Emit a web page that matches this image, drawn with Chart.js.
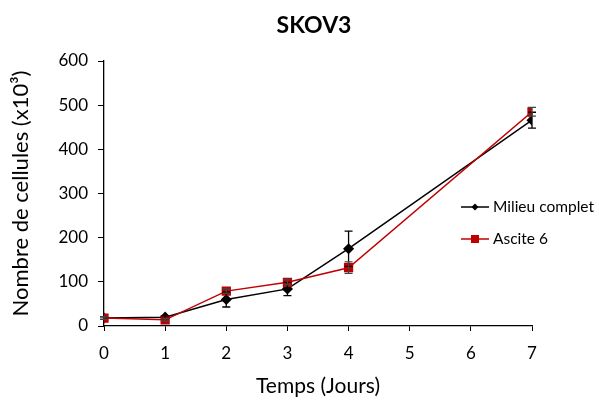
<!DOCTYPE html>
<html>
<head>
<meta charset="utf-8">
<script src="https://cdn.jsdelivr.net/npm/chart.js@4.4.0/dist/chart.umd.min.js"></script>
<style>
html,body{margin:0;padding:0;background:#fff;}
#wrap{width:599px;height:402px;position:relative;}
</style>
</head>
<body>
<div id="wrap"><canvas id="c" width="599" height="402"></canvas></div>
<script>
const chartTitle = "SKOV3";
const xTitle = "Temps (Jours)";
const yTitle = "Nombre de cellules (x10³)";
const days = [0, 1, 2, 3, 4, 7];
const seriesNames = ["Milieu complet", "Ascite 6"];
const milieu = [18, 20, 60, 84, 175, 466];
const milieuErr = [3, 3, 17, 15, 40, 18];
const ascite = [18, 14, 79, 99, 132, 485];
const asciteErr = [3, 3, 5, 6, 13, 10];
const xTicks = [0, 1, 2, 3, 4, 5, 6, 7];
const yTicks = [0, 100, 200, 300, 400, 500, 600];

const FONT = "Lato, 'Open Sans', sans-serif";

function pts(vals){ return days.map((d,i)=>({x:d, y:vals[i]})); }

const errorBars = {
  id: 'errorBars',
  afterDatasetsDraw(chart){
    const ctx = chart.ctx;
    const ys = chart.scales.y, xs = chart.scales.x;
    const errs = [milieuErr, asciteErr];
    ctx.save();
    chart.data.datasets.forEach((ds, di) => {
      const err = errs[di];
      ctx.strokeStyle = di === 0 ? '#000' : '#444';
      ctx.lineWidth = 1.3;
      ds.data.forEach((p, i) => {
        const px = xs.getPixelForValue(p.x);
        const top = ys.getPixelForValue(p.y + err[i]);
        const bot = ys.getPixelForValue(p.y - err[i]);
        ctx.beginPath();
        ctx.moveTo(px, top); ctx.lineTo(px, bot);
        ctx.moveTo(px-4, top); ctx.lineTo(px+4, top);
        ctx.moveTo(px-4, bot); ctx.lineTo(px+4, bot);
        ctx.stroke();
      });
    });
    ctx.restore();
  }
};

const customText = {
  id: 'customText',
  afterDraw(chart){
    const ctx = chart.ctx;
    ctx.save();
    ctx.fillStyle = '#000';
    ctx.font = "bold 23px " + FONT;
    ctx.textAlign = 'center';
    ctx.textBaseline = 'middle';
    ctx.fillText(chartTitle, 314, 26);
    const items = chart.data.datasets;
    const ly = [207, 239];
    items.forEach((ds, i) => {
      const y = ly[i];
      ctx.strokeStyle = ds.borderColor;
      ctx.lineWidth = 1.5;
      ctx.beginPath(); ctx.moveTo(461, y); ctx.lineTo(489, y); ctx.stroke();
      ctx.fillStyle = ds.pointBackgroundColor;
      if (ds.pointStyle === 'rectRot') {
        ctx.beginPath();
        ctx.moveTo(475, y-3.5); ctx.lineTo(478.5, y); ctx.lineTo(475, y+3.5); ctx.lineTo(471.5, y); ctx.closePath(); ctx.fill();
      } else {
        ctx.fillRect(471, y-4, 8, 8);
      }
      ctx.fillStyle = '#000';
      ctx.font = "15.5px " + FONT;
      ctx.textAlign = 'left';
      ctx.textBaseline = 'middle';
      ctx.fillText(ds.label, 493, y);
    });
    ctx.restore();
  }
};

new Chart(document.getElementById('c'), {
  type: 'line',
  data: {
    datasets: [
      { label: seriesNames[0], data: pts(milieu), borderColor: '#000', backgroundColor: '#000',
        pointBackgroundColor: '#000', pointBorderColor: '#000', pointStyle: 'rectRot', pointRadius: 4.5,
        borderWidth: 1.5, tension: 0, order: 2 },
      { label: seriesNames[1], data: pts(ascite), borderColor: '#C00000', backgroundColor: '#C00000',
        pointBackgroundColor: '#C00000', pointBorderColor: '#C00000', pointStyle: 'rect', pointRadius: 5.5,
        borderWidth: 1.5, tension: 0, order: 1 }
    ]
  },
  options: {
    responsive: false,
    animation: false,
    layout: { padding: { left: 0, right: 67, top: 61, bottom: 0 } },
    plugins: { legend: { display: false }, title: { display: false }, tooltip: { enabled: false } },
    scales: {
      x: {
        type: 'linear', min: 0, max: 7,
        afterBuildTicks(s){ s.ticks = xTicks.map(v=>({value:v})); },
        afterFit(s){ s.height = 76; },
        grid: { display: true, drawOnChartArea: false, drawTicks: true, tickLength: 5, color: '#000' },
        border: { color: '#000', width: 1.3 },
        ticks: { color: '#000', font: { family: FONT, size: 17 }, padding: 12, maxRotation: 0 },
        title: { display: true, text: xTitle, color: '#000', font: { family: FONT, size: 21 }, padding: { top: 2, bottom: 3 } }
      },
      y: {
        type: 'linear', min: 0, max: 600,
        afterBuildTicks(s){ s.ticks = yTicks.map(v=>({value:v})); },
        afterFit(s){ s.width = 104; },
        grid: { display: true, drawOnChartArea: false, drawTicks: true, tickLength: 6, color: '#000' },
        border: { color: '#000', width: 1.3 },
        ticks: { color: '#000', font: { family: FONT, size: 17 }, padding: 10 },
        title: { display: true, text: yTitle, color: '#000', font: { family: FONT, size: 22 }, padding: { top: 8, bottom: 4 } }
      }
    }
  },
  plugins: [errorBars, customText]
});
</script>
</body>
</html>
